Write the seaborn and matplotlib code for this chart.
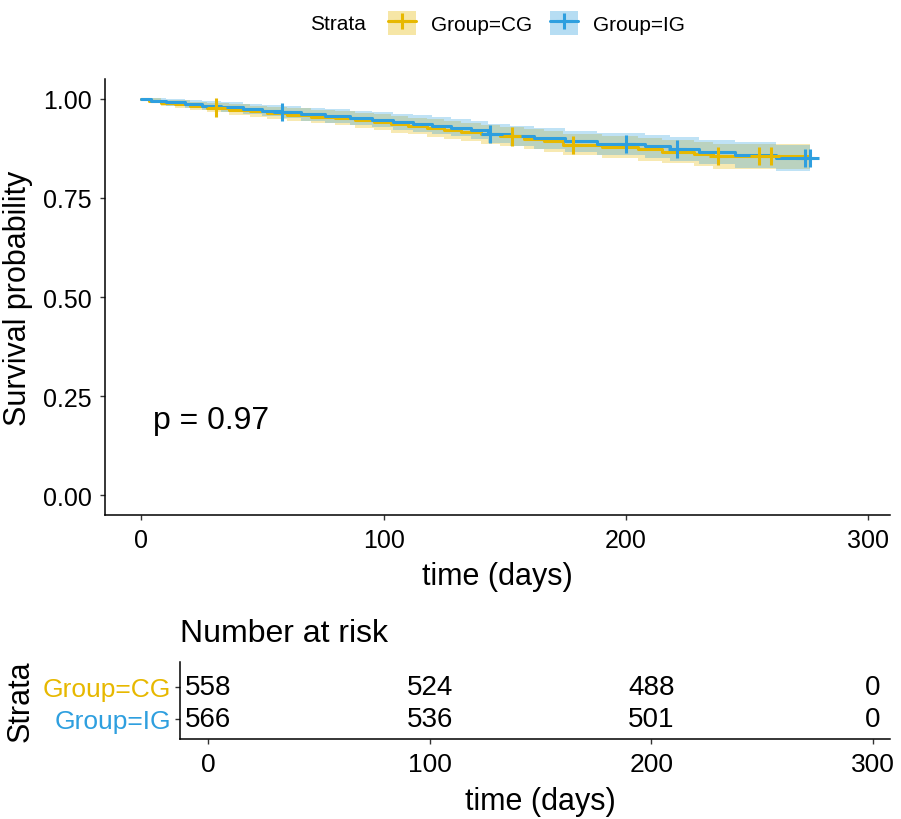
import numpy as np
import pandas as pd
import matplotlib
matplotlib.use("Agg")
import matplotlib.pyplot as plt
from matplotlib.patches import Patch
from matplotlib.lines import Line2D
from matplotlib.legend_handler import HandlerTuple
import seaborn as sns

# ---- Kaplan-Meier estimates per group (step times in days, survival, CI half-width) ----
groups = ["Group=CG", "Group=IG"]
colors = {"Group=CG": "#E7B800", "Group=IG": "#2E9FDF"}

cg_time = [0, 3, 8, 14, 20, 27, 36, 45, 52, 60, 70, 80, 88, 96, 103, 110, 118, 125,
           132, 140, 148, 158, 166, 174, 190, 205, 215, 228, 236]
cg_surv = [1.0, 0.995, 0.990, 0.986, 0.982, 0.978, 0.973, 0.969, 0.964, 0.960, 0.955,
           0.951, 0.946, 0.941, 0.936, 0.931, 0.926, 0.921, 0.916, 0.911, 0.905, 0.899,
           0.893, 0.884, 0.878, 0.873, 0.867, 0.861, 0.855]
cg_ci = [0.0, 0.006, 0.008, 0.010, 0.011, 0.012, 0.013, 0.014, 0.015, 0.016, 0.017,
         0.018, 0.019, 0.020, 0.021, 0.021, 0.022, 0.023, 0.023, 0.024, 0.025, 0.026,
         0.026, 0.027, 0.028, 0.029, 0.029, 0.030, 0.031]
cg_censor = [31, 153, 178, 238, 255, 260]

ig_time = [0, 4, 10, 18, 25, 33, 42, 50, 58, 66, 76, 86, 95, 104, 112, 120, 128, 136,
           143, 152, 162, 175, 188, 208, 218, 230, 245, 262]
ig_surv = [1.0, 0.995, 0.991, 0.987, 0.983, 0.979, 0.975, 0.970, 0.966, 0.961, 0.957,
           0.952, 0.947, 0.942, 0.937, 0.932, 0.927, 0.921, 0.912, 0.906, 0.900, 0.893,
           0.887, 0.880, 0.874, 0.866, 0.858, 0.850]
ig_ci = [0.0, 0.006, 0.008, 0.010, 0.011, 0.012, 0.013, 0.014, 0.015, 0.016, 0.017,
         0.018, 0.019, 0.020, 0.021, 0.021, 0.022, 0.023, 0.024, 0.025, 0.026, 0.027,
         0.028, 0.029, 0.030, 0.031, 0.032, 0.033]
ig_censor = [58, 144, 200, 221, 274, 276]

follow_up_end = 276

# ---- Number at risk table ----
risk_times = [0, 100, 200, 300]
risk_cg = [558, 524, 488, 0]
risk_ig = [566, 536, 501, 0]

p_value_text = "p = 0.97"

sns.set_style("ticks")
plt.rcParams["font.family"] = ["Liberation Sans", "DejaVu Sans"]
plt.rcParams.update({
    "text.color": "black",
    "axes.labelcolor": "black",
    "xtick.color": "black",
    "ytick.color": "black",
})

fig = plt.figure(figsize=(9.01, 8.2), dpi=100)
ax = fig.add_axes([105 / 901, 1 - 516 / 820, 785 / 901, 436 / 820])

curves = {
    "Group=CG": (cg_time, cg_surv, cg_ci, cg_censor),
    "Group=IG": (ig_time, ig_surv, ig_ci, ig_censor),
}

rows = []
cens_rows = []
for g, (t, s, ci, cens) in curves.items():
    t_full = list(t) + [follow_up_end]
    s_full = list(s) + [s[-1]]
    ci_full = list(ci) + [ci[-1]]
    for tt, ss, cc in zip(t_full, s_full, ci_full):
        rows.append({"time": tt, "surv": ss, "lo": ss - cc, "hi": ss + cc, "group": g})
    for c in cens:
        idx = np.searchsorted(t, c, side="right") - 1
        cens_rows.append({"time": c, "surv": s[idx], "group": g})
km = pd.DataFrame(rows)
cens_df = pd.DataFrame(cens_rows)

for g in groups:
    d = km[km.group == g]
    ax.fill_between(d.time, d.lo, d.hi, step="post", color=colors[g], alpha=0.3,
                    linewidth=0)

sns.lineplot(data=km, x="time", y="surv", hue="group", palette=colors,
             hue_order=groups, drawstyle="steps-post", estimator=None,
             linewidth=2.2, legend=False, ax=ax)
sns.scatterplot(data=cens_df, x="time", y="surv", hue="group", palette=colors,
                hue_order=groups, marker="+", s=170, linewidth=2.2, legend=False,
                ax=ax, zorder=5)

ax.text(5, 0.19, p_value_text, fontsize=23, ha="left", va="center", color="black")

ax.set_xlim(-15, 309)
ax.set_ylim(-0.05, 1.05)
ax.set_xticks([0, 100, 200, 300])
ax.set_yticks([0, 0.25, 0.5, 0.75, 1.0])
ax.set_yticklabels(["0.00", "0.25", "0.50", "0.75", "1.00"])
ax.tick_params(labelsize=18, length=3.6, width=1, color="#333333", labelcolor="black")
ax.tick_params(axis="x", pad=6)
ax.tick_params(axis="y", pad=6)
ax.set_xlabel("time (days)", fontsize=22, va="center", color="black")
ax.set_ylabel("Survival probability", fontsize=22, va="center", color="black")
ax.xaxis.set_label_coords(0.5, -0.14)
ax.yaxis.set_label_coords(-0.111, 0.5)
for side in ["top", "right"]:
    ax.spines[side].set_visible(False)
for side in ["left", "bottom"]:
    ax.spines[side].set_color("black")
    ax.spines[side].set_linewidth(1.1)

# legend across the top
handles = []
for g in groups:
    handles.append((Patch(facecolor=colors[g], alpha=0.35, edgecolor="none"),
                    Line2D([], [], color=colors[g], linewidth=2.2, marker="+",
                           markersize=12, markeredgewidth=2.2)))
fig.text(310 / 901, 1 - 24 / 820, "Strata", fontsize=15, ha="left", va="center",
         color="black")
fig.legend(handles, groups, handler_map={tuple: HandlerTuple(ndivide=1, pad=0)},
           loc="center left", bbox_to_anchor=(388 / 901, 1 - 24 / 820), ncol=2,
           frameon=False, fontsize=15, handlelength=1.35, handleheight=1.35,
           columnspacing=0.85, handletextpad=0.72, borderaxespad=0, borderpad=0,
           labelcolor="black")

# ---- risk table ----
ax2 = fig.add_axes([180 / 901, 1 - 740 / 820, 710 / 901, 77 / 820])
row_y = {"Group=CG": 2, "Group=IG": 1}
for g, counts in zip(groups, [risk_cg, risk_ig]):
    for tt, n in zip(risk_times, counts):
        ax2.text(tt, row_y[g], str(n), ha="center", va="center", fontsize=20,
                 color="black")
ax2.set_xlim(-12.6, 307.7)
ax2.set_ylim(0.375, 2.78)
ax2.set_xticks(risk_times)
ax2.set_yticks([row_y[g] for g in groups])
ax2.set_yticklabels(groups)
ax2.tick_params(axis="x", labelsize=19, length=3.6, width=1, color="#333333", pad=6,
                labelcolor="black")
ax2.tick_params(axis="y", labelsize=19, length=3.6, width=1, color="#333333", pad=3)
for lbl, g in zip(ax2.get_yticklabels(), groups):
    lbl.set_color(colors[g])
ax2.set_xlabel("time (days)", fontsize=22, va="center", color="black")
ax2.set_ylabel("Strata", fontsize=22, va="center", color="black")
ax2.xaxis.set_label_coords(0.507, -0.805)
ax2.yaxis.set_label_coords(-0.225, 0.5)
ax2.text(0, 1.377, "Number at risk", transform=ax2.transAxes, fontsize=23,
         ha="left", va="center", color="black")
for side in ["top", "right"]:
    ax2.spines[side].set_visible(False)
for side in ["left", "bottom"]:
    ax2.spines[side].set_color("black")
    ax2.spines[side].set_linewidth(1.1)

fig.savefig("out.png", dpi=100)
